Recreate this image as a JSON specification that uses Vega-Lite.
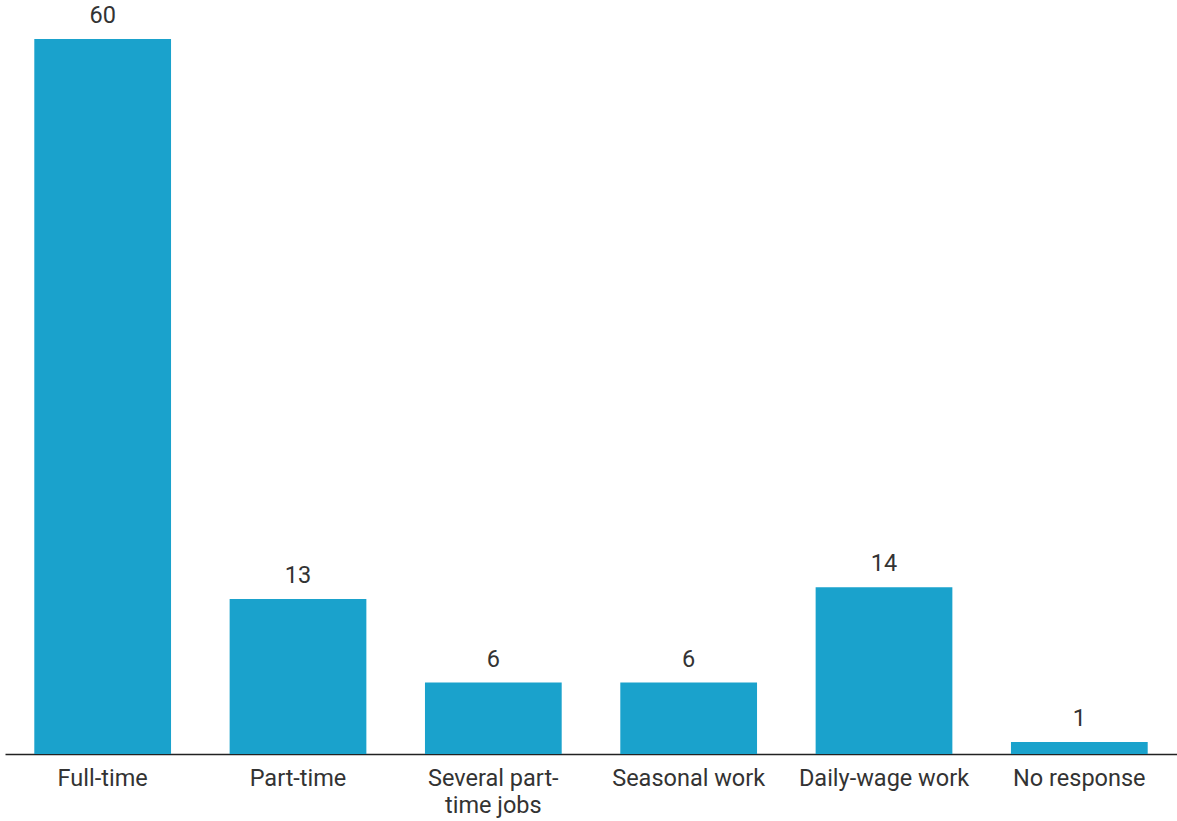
{
  "$schema": "https://vega.github.io/schema/vega-lite/v6.json",
  "autosize": "none",
  "width": 1172,
  "height": 715,
  "padding": {"left": 5, "top": 39, "right": 0, "bottom": 67},
  "background": "white",
  "config": {"view": {"stroke": null}, "font": "Roboto"},
  "data": {"values": [
    {"type": "Full-time", "count": 60},
    {"type": "Part-time", "count": 13},
    {"type": "Several part-time jobs", "count": 6},
    {"type": "Seasonal work", "count": 6},
    {"type": "Daily-wage work", "count": 14},
    {"type": "No response", "count": 1}
  ]},
  "encoding": {
    "x": {"field": "type", "type": "nominal", "sort": null,
      "scale": {"paddingInner": 0.3, "paddingOuter": 0.15},
      "axis": {"title": null, "labelAngle": 0, "ticks": false, "domainColor": "#222", "domainWidth": 1.5,
        "labelFont": "Roboto", "labelFontSize": 23.5, "labelColor": "#333", "labelPadding": 12, "labelLineHeight": 27,
        "labelExpr": "datum.label == 'Several part-time jobs' ? ['Several part-', 'time jobs'] : datum.label"}},
    "y": {"field": "count", "type": "quantitative", "scale": {"domain": [0, 60], "nice": false}, "axis": null}
  },
  "layer": [
    {"mark": {"type": "bar", "color": "#1aa2cc"}},
    {"mark": {"type": "text", "baseline": "alphabetic", "dy": -16, "font": "Roboto", "fontSize": 23.5, "color": "#333"},
     "encoding": {"text": {"field": "count", "type": "quantitative"}}}
  ]
}
